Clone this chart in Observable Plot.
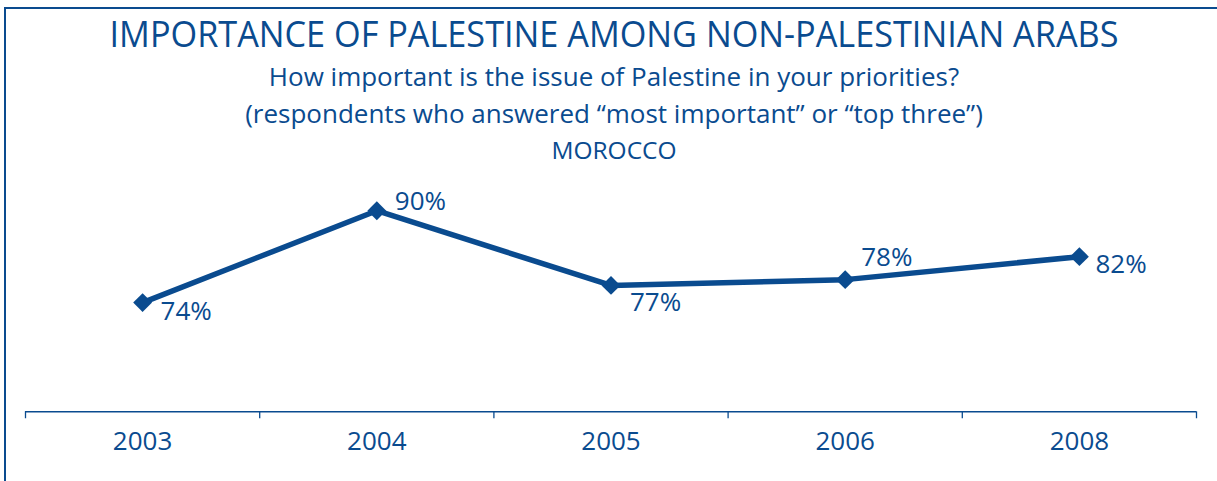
<!DOCTYPE html>
<html>
<head>
<meta charset="utf-8">
<script src="https://cdn.jsdelivr.net/npm/d3@7"></script>
<script src="https://cdn.jsdelivr.net/npm/@observablehq/plot@0.6"></script>
<style>
  html, body { margin: 0; padding: 0; background: #fff; width: 1217px; height: 481px; overflow: hidden; }
  #frame { position: absolute; left: 4px; top: 7px; width: 1400px; height: 700px;
           border-left: 2px solid #0a4b8f; border-top: 2px solid #0a4b8f; pointer-events: none; }
  #header { position: relative; width: 1217px; height: 170px; color: #0a4b8f; font-family: "Open Sans", sans-serif; }
  .line { position: absolute; left: 0; width: 1228px; text-align: center; line-height: 1; white-space: nowrap; }
  #title { top: 15px; font-size: 36.5px; transform: scaleX(0.938); transform-origin: 614px 0; }
  #sub1 { top: 63px; font-size: 26px; }
  #sub2 { top: 100px; font-size: 26px; }
  #sub3 { top: 138px; font-size: 24.5px; }
  #chart { position: relative; }
</style>
</head>
<body>
<div id="frame"></div>
<div id="header">
  <div class="line" id="title">IMPORTANCE OF PALESTINE AMONG NON-PALESTINIAN ARABS</div>
  <div class="line" id="sub1">How important is the issue of Palestine in your priorities?</div>
  <div class="line" id="sub2">(respondents who answered “most important” or “top three”)</div>
  <div class="line" id="sub3">MOROCCO</div>
</div>
<div id="chart"></div>
<script>
const years = ["2003", "2004", "2005", "2006", "2008"];
const values = [74, 90, 77, 78, 82];
const valueLabels = ["74%", "90%", "77%", "78%", "82%"];

const data = years.map((year, i) => ({ year, i, value: values[i], label: valueLabels[i] }));
const color = "#0a4b8f";
const boundaries = d3.range(years.length + 1).map(k => k - 0.5);

// label placement offsets (style, per year)
const labelOffset = {
  "2003": [18, 9],
  "2004": [18, -9],
  "2005": [19, 17],
  "2006": [16, -22],
  "2008": [16, 8]
};

const labelMarks = years.map(y => Plot.text(data.filter(d => d.year === y), {
  x: "i", y: "value", text: "label",
  dx: labelOffset[y][0], dy: labelOffset[y][1],
  textAnchor: "start", fill: color, fontSize: 26
}));

const chart = Plot.plot({
  width: 1217,
  height: 311,
  marginLeft: 25,
  marginRight: 21,
  marginTop: 0,
  marginBottom: 69.75,
  x: { type: "linear", domain: [-0.5, years.length - 0.5], axis: null },
  y: { domain: [55, 97], axis: null },
  style: { fontFamily: "'Open Sans', sans-serif", color: color, background: "transparent", overflow: "visible" },
  marks: [
    Plot.ruleY([55], { stroke: color, strokeWidth: 1.6 }),
    Plot.axisX({ ticks: boundaries, tickSize: 7, tickFormat: () => "", stroke: color, strokeWidth: 1.3, label: null }),
    Plot.axisX({ ticks: d3.range(years.length), tickSize: 0, tickPadding: 20, tickFormat: i => years[i],
                 fontSize: 26, fill: color, label: null }),
    Plot.line(data, { x: "i", y: "value", stroke: color, strokeWidth: 5.5, strokeLinejoin: "miter" }),
    Plot.dot(data, { x: "i", y: "value", symbol: "diamond2", r: 8.5, fill: color, stroke: "none" }),
    ...labelMarks
  ]
});
document.getElementById("chart").appendChild(chart);
</script>
</body>
</html>
